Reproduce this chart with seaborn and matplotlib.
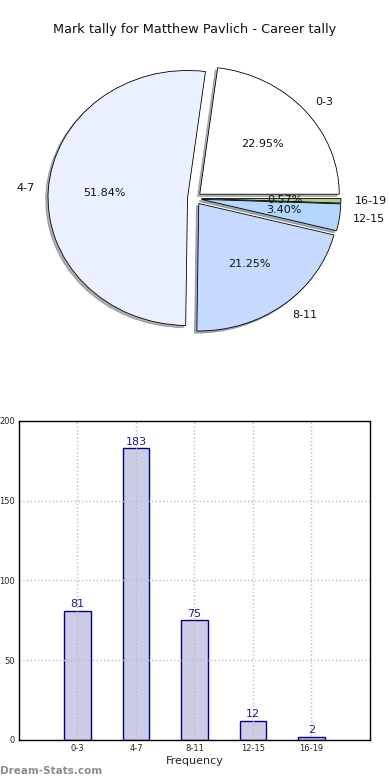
import matplotlib
matplotlib.use("Agg")
import matplotlib.pyplot as plt
import seaborn as sns
import pandas as pd

# ── Data ─────────────────────────────────────────────────────
categories = ["0-3", "4-7", "8-11", "12-15", "16-19"]
counts     = [81, 183, 75, 12, 2]
pie_colors = ["#FFFFFF", "#EAF0FF", "#C6D9FF", "#B3D6FF", "#AFCB7E"]
title      = "Mark tally for Matthew Pavlich - Career tally"
yticks     = [0, 50, 100, 150, 200]

df = pd.DataFrame({"bin": categories, "count": counts})

sns.set_theme(style="white")
plt.rcParams["font.family"] = ["DejaVu Sans"]

fig = plt.figure(figsize=(3.9, 7.8), dpi=100)

# ── Pie (top) ────────────────────────────────────────────────
ax_pie = fig.add_axes([0.0337, 0.5331, 0.930, 0.425])
ax_pie.pie(
    df["count"], labels=df["bin"], colors=pie_colors,
    explode=[0.05] * len(counts),
    shadow={"ox": -0.012, "oy": -0.012, "shade": 0.6},
    autopct="%.2f%%", startangle=0, counterclock=True,
    wedgeprops=dict(edgecolor="black", linewidth=0.6),
    textprops=dict(fontsize=8, color="#111111"),
)
ax_pie.set_aspect("auto")
ax_pie.set_xlim(-1.3, 1.3)
ax_pie.set_ylim(-1.3, 1.3)
ax_pie.axis("off")
fig.text(0.5, 1 - 30 / 780, title, ha="center", va="center", fontsize=9.3, color="#111111")

# ── Bar chart (bottom) ───────────────────────────────────────
ax_bar = fig.add_axes([0.0487, 0.0513, 0.9, 0.409])
sns.barplot(data=df, x="bin", y="count", color="#CCCCE6", width=0.45,
            edgecolor="#000080", linewidth=1, saturation=1, ax=ax_bar)
for c in ax_bar.containers:
    ax_bar.bar_label(c, padding=1, fontsize=8, color="#1A1A8C")

ax_bar.set_xlim(-1, 5)
ax_bar.set_ylim(0, 200)
ax_bar.set_yticks(yticks)
ax_bar.grid(True, linestyle=":", color="#BBBBBB", linewidth=1)
ax_bar.set_axisbelow(False)
for b in ax_bar.patches:
    b.set_zorder(1)
ax_bar.tick_params(axis="both", labelsize=6, direction="in", length=0, pad=3)
ax_bar.set_xlabel("Frequency", fontsize=8, labelpad=2)
ax_bar.set_ylabel("")
for s in ax_bar.spines.values():
    s.set_visible(True)
    s.set_color("black")
    s.set_linewidth(1)
    s.set_zorder(5)

fig.text(0.0, 1 - 771 / 780, "Dream-Stats.com", ha="left", va="center",
         fontsize=7.5, color="#8C8C8C", fontweight="bold")

fig.savefig("out.png", dpi=100)
